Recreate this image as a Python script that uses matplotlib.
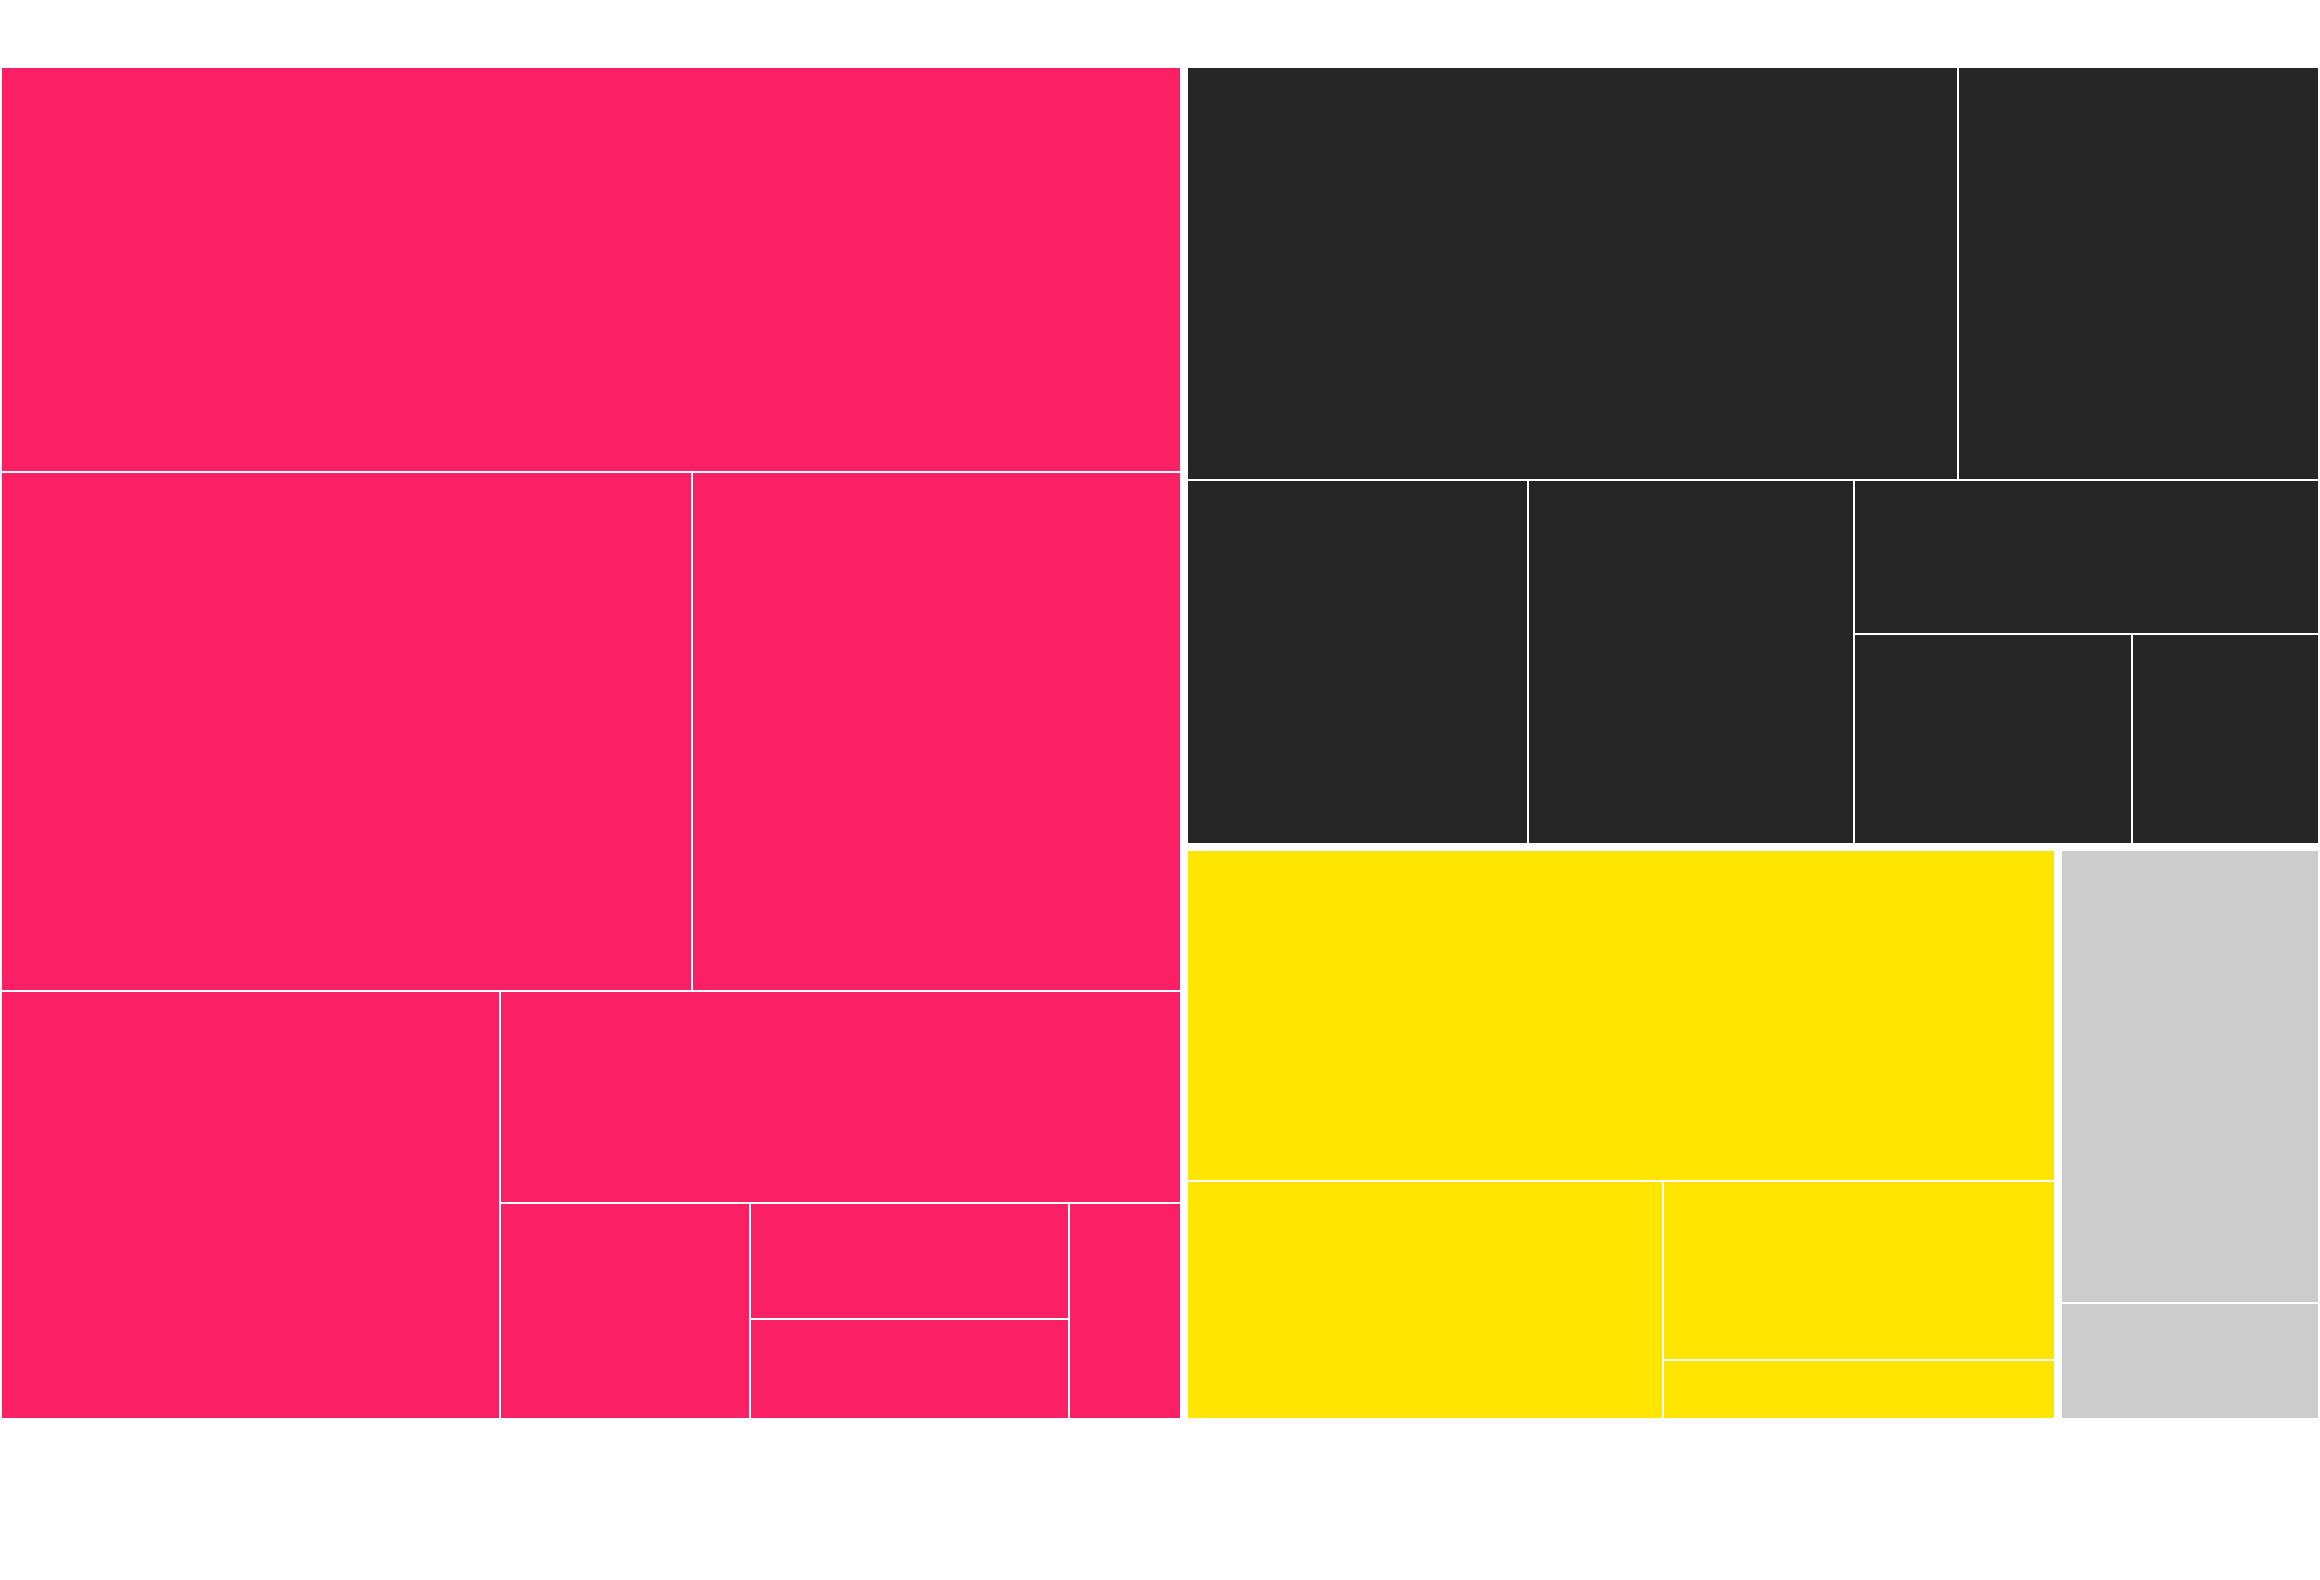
#!/usr/bin/env python
# -*- encoding: utf-8
# Treemap of four groups, drawn with plain rectangles
import matplotlib
matplotlib.use('Agg')
import matplotlib.pyplot as plt
from matplotlib.patches import Rectangle

# leaf values of every group (thousands)
groups = ['pink', 'dark', 'yellow', 'gray']
pink_values = [483.3, 361.9, 255.8, 216.2, 146.2, 54.6, 37.5, 32.2, 24.5]
dark_values = [322.1, 151.0, 125.7, 120.7, 72.4, 59.3, 39.9]
yellow_values = [291.8, 115.4, 71.6, 23.7]
gray_values = [120.4, 31.0]

colors = {'pink': '#FB1F65', 'dark': '#262626',
          'yellow': '#FFE500', 'gray': '#CCCCCC'}

# how the tiles are nested: 'row' puts children left to right,
# 'col' stacks them top to bottom; ints are indexes into the values
top_layout = ('row', [0, ('col', [1, ('row', [2, 3])])])
pink_layout = ('col', [0, ('row', [1, 2]),
                       ('row', [3, ('col', [4, ('row', [5, ('col', [6, 7]), 8])])])])
dark_layout = ('col', [('row', [0, 1]),
                       ('row', [2, 3, ('col', [4, ('row', [5, 6])])])])
yellow_layout = ('col', [0, ('row', [1, ('col', [2, 3])])])
gray_layout = ('col', [0, 1])


def subtotal(node, vals):
    if isinstance(node, int):
        return vals[node]
    return sum(subtotal(k, vals) for k in node[1])


def place(node, vals, x, y, w, h, out):
    """Split the box (x, y, w, h) among the children by value."""
    if isinstance(node, int):
        out.append((node, x, y, w, h))
        return
    kind, kids = node
    tot = subtotal(node, vals)
    pos = x if kind == 'row' else y
    for k in kids:
        frac = subtotal(k, vals) / tot
        if kind == 'row':
            place(k, vals, pos, y, w * frac, h, out)
            pos += w * frac
        else:
            place(k, vals, x, pos, w, h * frac, out)
            pos += h * frac


def inset(x, y, w, h, d):
    return x + d, y + d, w - 2 * d, h - 2 * d


W, H = 2320, 1580
fig = plt.figure(figsize=(W / 100.0, H / 100.0), dpi=100)
ax = fig.add_axes([0, 0, 1, 1])
ax.set_xlim(0, W)
ax.set_ylim(H, 0)
ax.axis('off')

# plotting area of the treemap (pixels)
left, top, width, height = -2.5, 64, 2324.2, 1358.4
group_gap = 4.0
leaf_gap = 1.0

all_values = [pink_values, dark_values, yellow_values, gray_values]
all_layouts = [pink_layout, dark_layout, yellow_layout, gray_layout]
totals = [sum(v) for v in all_values]

slots = []
place(top_layout, totals, left, top, width, height, slots)

for gi, gx, gy, gw, gh in slots:
    vals = all_values[gi]
    color = colors[groups[gi]]
    bx, by, bw, bh = inset(gx, gy, gw, gh, group_gap)
    leaves = []
    place(all_layouts[gi], vals, bx - leaf_gap, by - leaf_gap,
          bw + 2 * leaf_gap, bh + 2 * leaf_gap, leaves)
    for li, lx, ly, lw, lh in leaves:
        rx, ry, rw, rh = inset(lx, ly, lw, lh, leaf_gap)
        ax.add_patch(Rectangle((rx, ry), rw, rh, facecolor=color,
                               edgecolor='none', linewidth=0))

fig.savefig('out.png', dpi=100, facecolor='white')
